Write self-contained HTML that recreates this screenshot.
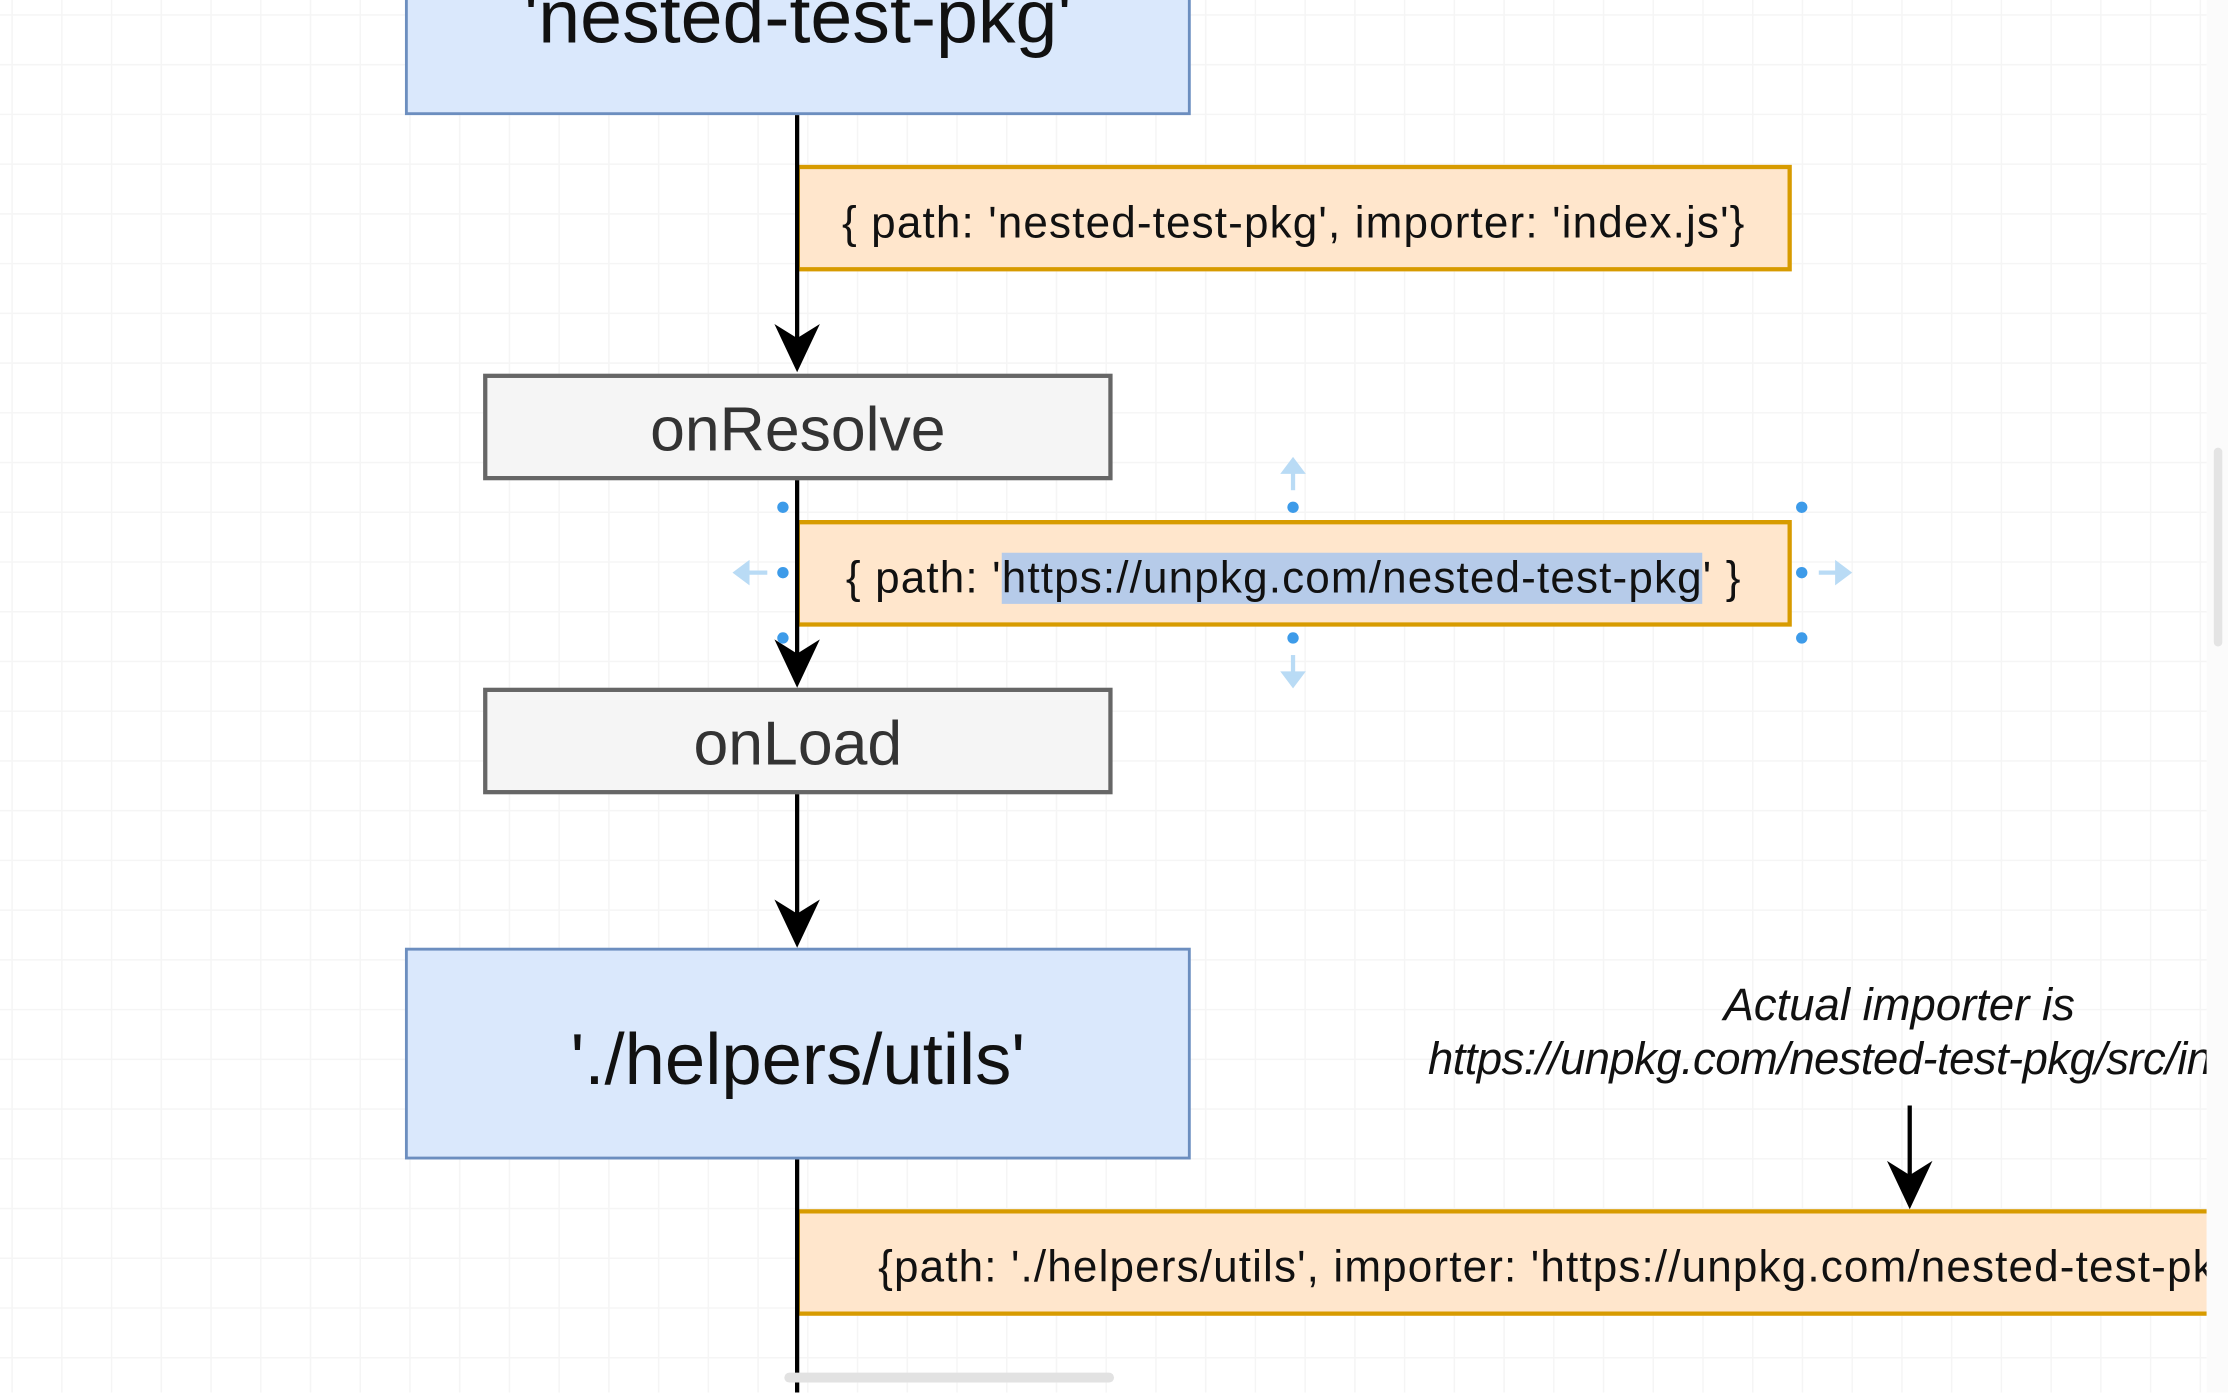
<!DOCTYPE html>
<html><head><meta charset="utf-8"><style>
html,body{margin:0;padding:0;width:2228px;height:1392px;overflow:hidden;background:#fff;}
#s{position:absolute;left:0;top:0;width:1568px;height:980px;transform:scale(1.42092);transform-origin:0 0;font-family:"Liberation Sans",sans-serif;}
#c{position:absolute;left:0;top:0;width:1553px;height:980px;overflow:hidden;
background-color:#fff;
background-image:linear-gradient(#f5f5f5 1px,transparent 1px),linear-gradient(90deg,#f5f5f5 1px,transparent 1px);
background-size:35px 35px;background-position:8px 10px;}
.b{position:absolute;box-sizing:border-box;display:flex;align-items:center;justify-content:center;color:#111;white-space:nowrap;}
.blue{background:#dae8fc;border:2px solid #6c8ebf;}
.or{background:#ffe6cc;border:3px solid #d79b00;border-left:2px solid #d79b00;font-size:31px;letter-spacing:0.8px;padding-top:6px;}
.gr{background:#f5f5f5;border:3px solid #666;font-size:44px;color:#333;padding-top:4px;}
.d{position:absolute;width:8px;height:8px;border-radius:50%;background:#3d9be9;transform:translate(-4px,-4px);}
</style></head><body>
<div id="s">
<div id="c">
<div class="b blue" style="left:285px;top:-30px;width:553px;height:111px;"></div>
<div style="position:absolute;left:285px;top:-17px;width:553px;text-align:center;font-size:53px;line-height:60px;color:#111;">'nested-test-pkg'</div>
<div class="b or" style="left:561px;top:116px;width:700px;height:75px;">{ path: 'nested-test-pkg', importer: 'index.js'}</div>
<div class="b gr" style="left:340px;top:263px;width:443px;height:75px;">onResolve</div>
<div class="b or" style="left:561px;top:366px;width:700px;height:75px;">{ path: '<span style="background:#b6cbe9">https://unpkg.com/nested-test-pkg</span>' }</div>
<div class="b gr" style="left:340px;top:484px;width:443px;height:75px;">onLoad</div>
<div class="b blue" style="left:285px;top:667px;width:553px;height:149px;font-size:51px;padding-top:8px;">'./helpers/utils'</div>
<div class="b or" style="left:561px;top:851px;width:1200px;height:75px;justify-content:flex-start;padding-left:55px;">{path: './helpers/utils', importer: 'https://unpkg.com/nested-test-pkg/src/index.js'}</div>
<div style="position:absolute;left:1005px;top:688px;width:800px;font-size:32px;font-style:italic;color:#111;line-height:38px;white-space:nowrap;"><div style="padding-left:208px">Actual importer is</div><div style="letter-spacing:-0.4px">https://unpkg.com/nested-test-pkg/src/index.js</div></div>
<svg width="1568" height="980" style="position:absolute;left:0;top:0;overflow:visible">
<g stroke="#000" stroke-width="3" fill="none">
<line x1="561" y1="81" x2="561" y2="240"/>
<line x1="561" y1="338" x2="561" y2="465"/>
<line x1="561" y1="559" x2="561" y2="645"/>
<line x1="561" y1="816" x2="561" y2="980"/>
<line x1="1344" y1="778" x2="1344" y2="830"/>
</g>
<g fill="#000">
<path d="M545 228 L561 262 L577 228 L561 238 Z"/>
<path d="M545 450 L561 484 L577 450 L561 460 Z"/>
<path d="M545 633 L561 667 L577 633 L561 643 Z"/>
<path d="M1328 817 L1344 851 L1360 817 L1344 827 Z"/>
</g>
<g stroke="#b9dbf5" stroke-width="3" fill="#b9dbf5">
<line x1="910" y1="330" x2="910" y2="345"/><path d="M904 332 L910 324 L916 332Z"/>
<line x1="910" y1="461" x2="910" y2="476"/><path d="M904 474 L910 482 L916 474Z"/>
<line x1="524" y1="403" x2="540" y2="403"/><path d="M526 397 L518 403 L526 409Z"/>
<line x1="1280" y1="403" x2="1295" y2="403"/><path d="M1293 397 L1301 403 L1293 409Z"/>
</g>
</svg>
<div class="d" style="left:551px;top:357px"></div><div class="d" style="left:910px;top:357px"></div><div class="d" style="left:1268px;top:357px"></div>
<div class="d" style="left:551px;top:403px"></div><div class="d" style="left:1268px;top:403px"></div>
<div class="d" style="left:551px;top:449px"></div><div class="d" style="left:910px;top:449px"></div><div class="d" style="left:1268px;top:449px"></div>
<div style="position:absolute;left:552px;top:966px;width:232px;height:7px;border-radius:4px;background:#e2e2e2"></div>
</div>
<div style="position:absolute;left:1553px;top:0;width:15px;height:980px;background:#fbfbfb"></div>
<div style="position:absolute;left:1558px;top:315px;width:6px;height:140px;border-radius:3px;background:#e4e4e4"></div>
</div>
</body></html>
